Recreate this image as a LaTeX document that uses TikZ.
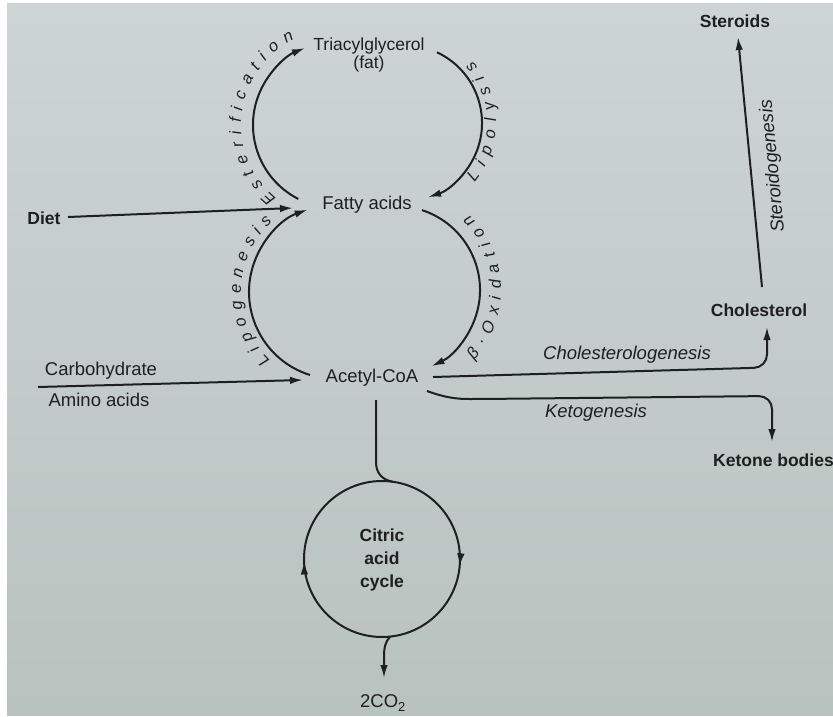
\documentclass[tikz,border=0pt]{standalone}
\usepackage{fontspec}
\setmainfont{Liberation Sans}
\usetikzlibrary{arrows.meta,decorations.text,decorations.markings,calc}

\definecolor{ink}{RGB}{30,32,32}
\definecolor{pagetop}{RGB}{205,213,212}
\definecolor{pagebot}{RGB}{184,194,191}

\tikzset{
  lbl/.style={text=ink, font=\fontsize{18.5}{20}\selectfont, inner sep=2pt},
  blbl/.style={text=ink, font=\fontsize{17.5}{23}\selectfont\bfseries, inner sep=2pt},
  ilbl/.style={text=ink, font=\fontsize{18.5}{20}\selectfont\itshape, inner sep=2pt},
  head/.tip={Latex[length=13pt,width=7.5pt]},
  tip/.style={-head},
  plain/.style={draw=ink, line width=2pt},
  flow/.style={plain, tip},
  arclabel/.style={decorate, decoration={text along path, text align={fit to path},
      text={|\fontsize{16.5}{16.5}\selectfont\itshape\color{ink}|#1}}},
}

\begin{document}
\begin{tikzpicture}[x=1pt, y=1pt]
  % page
  \useasboundingbox (0,0) rectangle (833,-717);
  \fill[white] (0,0) rectangle (833,-717);
  \shade[top color=pagetop, bottom color=pagebot] (7,-4) rectangle (833,-715);

  % metabolites
  \node[lbl, align=center, font=\fontsize{17.5}{18}\selectfont] (tag) at (369,-55) {Triacylglycerol\\(fat)};
  \node[lbl] (fatty) at (367,-205) {Fatty acids};
  \node[lbl] (acetyl) at (372,-378) {Acetyl-CoA};
  \node[blbl] (diet) at (44,-218) {Diet};
  \node[lbl] (carb) at (101,-371) {Carbohydrate};
  \node[lbl] (amino) at (99,-400) {Amino acids};
  \node[blbl] (steroids) at (735,-21) {Steroids};
  \node[blbl] (chol) at (759,-310) {Cholesterol};
  \node[blbl, anchor=west] (ketone) at (711,-460) {Ketone bodies};
  \node[blbl, align=center] (tcatext) at (382,-560) {Citric\\acid\\cycle};
  \node[lbl] (co2) at (383,-703) {2CO\textsubscript{2}};

  % centres of the four arcs around fatty acids
  \coordinate (cUL) at (336,-125);
  \coordinate (cUR) at (404,-123);
  \coordinate (cLL) at (336,-292);
  \coordinate (cLR) at (396,-290);

  % esterification and lipolysis
  \coordinate (estS) at ($(cUL)+(243:83pt)$);
  \draw[flow] (estS) arc[start angle=243, end angle=112, radius=83pt];
  \coordinate (lipS) at ($(cUR)+(65:78pt)$);
  \draw[flow] (lipS) arc[start angle=65, end angle=-72, radius=78pt];

  % lipogenesis and beta-oxidation
  \coordinate (lgS) at ($(cLL)+(252.6:87pt)$);
  \draw[flow] (lgS) arc[start angle=252.6, end angle=109, radius=87pt];
  \coordinate (boS) at ($(cLR)+(72:84pt)$);
  \draw[flow] (boS) arc[start angle=72, end angle=-65, radius=84pt];

  % arc labels
  \path[arclabel=Esterification] ($(cUL)+(231:95pt)$) arc[start angle=231, end angle=116, radius=95pt];
  \path[arclabel=Lipolysis] ($(cUR)+(-40:92pt)$) arc[start angle=-40, end angle=42, radius=92pt];
  \path[arclabel=Lipogenesis] ($(cLL)+(226:95pt)$) arc[start angle=226, end angle=132, radius=95pt];
  \path[arclabel=β·Oxidation] ($(cLR)+(-42:105pt)$) arc[start angle=-42, end angle=46, radius=105pt];

  % inputs from the left
  \coordinate (dietS) at (68,-217);
  \coordinate (dietE) at (293,-208);
  \draw[flow] (dietS) -- (dietE);
  \coordinate (carbS) at (38,-387);
  \coordinate (carbE) at (303,-380);
  \draw[flow] (carbS) -- (carbE);

  % cholesterol and steroids
  \coordinate (cholS) at (433,-377);
  \coordinate (cholE) at (767,-327);
  \draw[flow, rounded corners=13pt] (cholS) -- (767,-367.5) -- (cholE);
  \node[ilbl] (cholgen) at (627,-355) {Cholesterologenesis};
  \coordinate (stS) at (762,-287);
  \coordinate (stE) at (738,-37);
  \draw[flow] (stS) -- (stE);
  \node[ilbl, rotate=95.5] (stgen) at (773,-166) {Steroidogenesis};

  % ketone bodies
  \coordinate (ketS) at (427,-391);
  \coordinate (ketE) at (772,-442);
  \draw[flow, rounded corners=13pt] (ketS) .. controls (446,-398) and (458,-399) .. (482,-399)
      -- (772,-396) -- (ketE);
  \node[ilbl] (ketgen) at (596,-413) {Ketogenesis};

  % citric acid cycle
  \coordinate (tca) at (382,-559);
  \coordinate (tcaTop) at ($(tca)+(90:78pt)$);
  \draw[plain, postaction={decorate}, decoration={markings,
      mark=at position 0.265 with {\arrow{head}},
      mark=at position 0.745 with {\arrow{head}}}]
    (tcaTop) arc[start angle=90, end angle=-270, radius=78pt];
  \coordinate (acDown) at (376,-400);
  \coordinate (tcaIn) at ($(tca)+(82:78pt)$);
  \draw[plain] (acDown) -- (376,-462) .. controls (376,-474) and (383,-480) .. (tcaIn);
  \coordinate (tcaOut) at ($(tca)+(-84:78pt)$);
  \coordinate (co2E) at (384,-678);
  \draw[flow] (tcaOut) .. controls (385,-642) and (384,-648) .. (384,-658) -- (co2E);
\end{tikzpicture}
\end{document}
